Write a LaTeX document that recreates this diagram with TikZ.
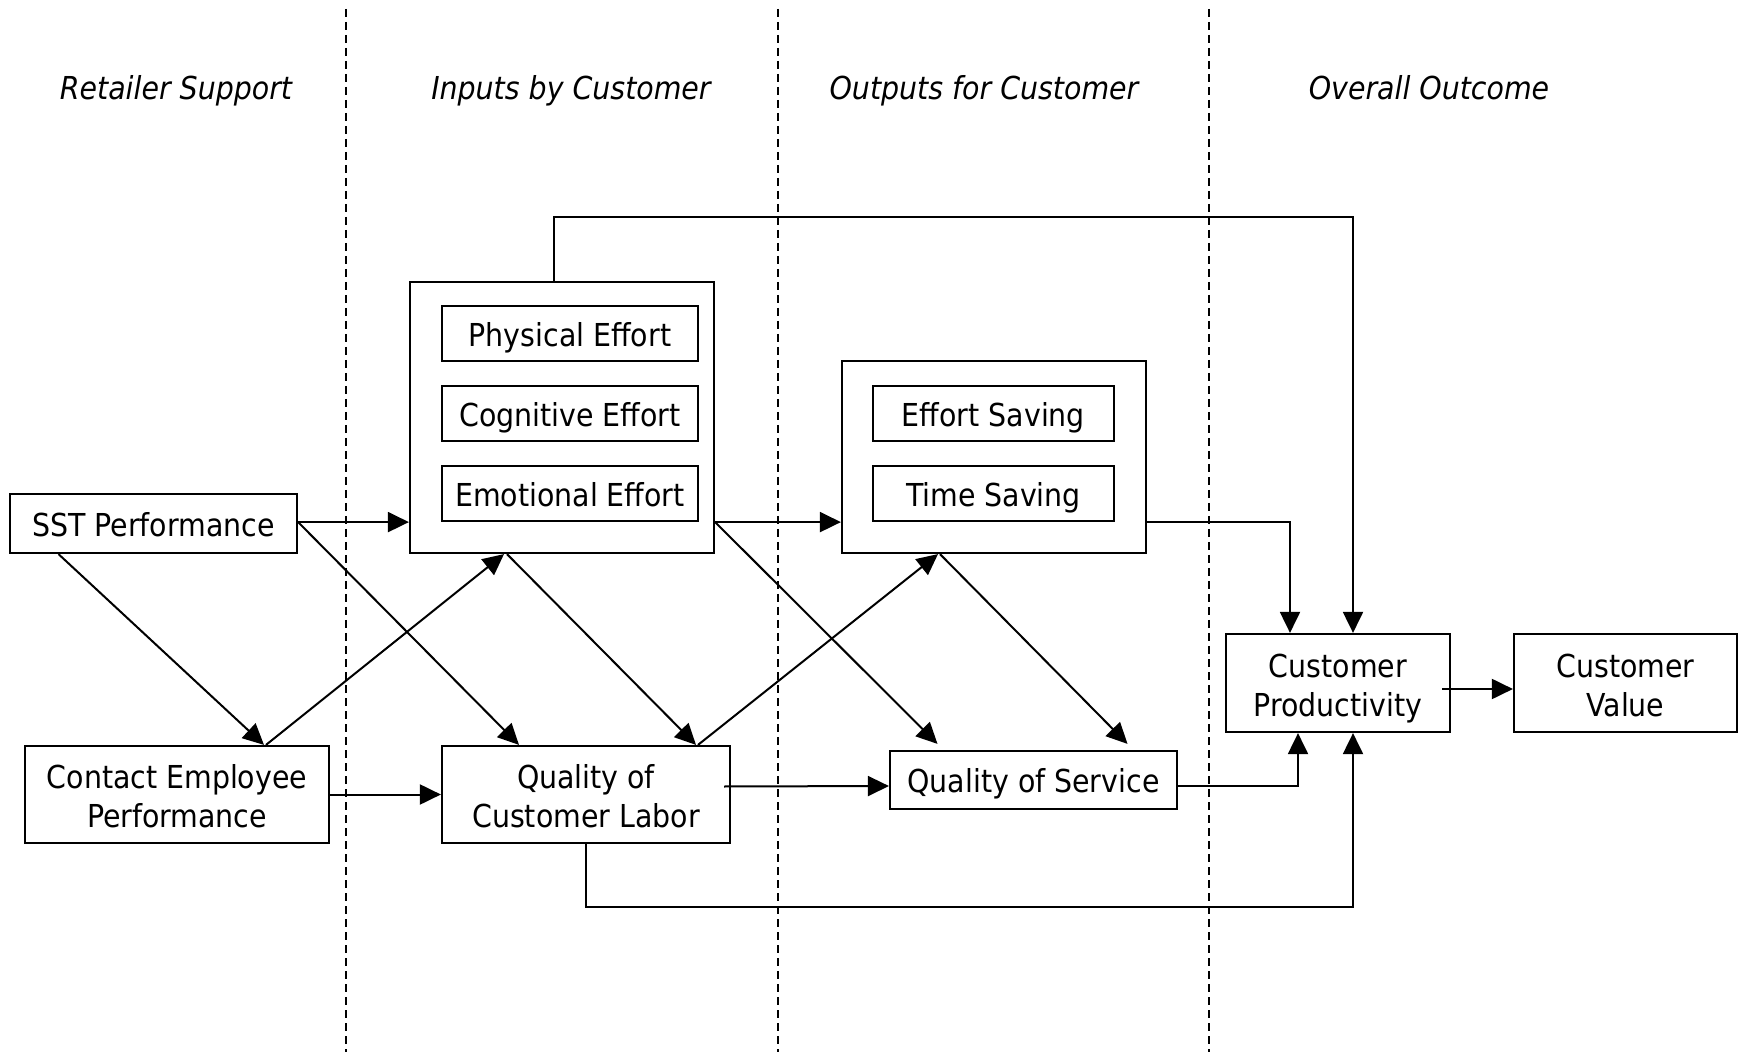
\documentclass[tikz,border=0pt]{standalone}
\usepackage{fontspec}
\setmainfont{DejaVu Sans Condensed}
\usetikzlibrary{calc, arrows.meta}

\tikzset{
  box/.style={draw, line width=1.1pt, align=center, inner sep=0pt,
    font=\fontsize{15.8}{19.5}\selectfont},
  single/.style={text height=15pt, text depth=2.1pt},
  double/.style={text height=33.2pt, text depth=0pt},
  hdr/.style={anchor=base, font=\fontsize{15.8}{19.5}\selectfont\itshape},
  arr/.style={line width=1pt, -{Triangle[length=10.5pt,width=10pt]}},
  divider/.style={line width=0.7pt, dash pattern=on 4pt off 2.5pt}
}

\begin{document}
\begin{tikzpicture}[x=0.5pt, y=-0.5pt]
\useasboundingbox (0,0) rectangle (1738,1052);
% Draw column dividers
\draw[divider] (346,9) -- (346,1052);
\draw[divider] (778,9) -- (778,1052);
\draw[divider] (1209,9) -- (1209,1052);
% Column headings
\node[hdr] (hretail) at (176,100) {Retailer Support};
\node[hdr] (hinputs) at (571,100) {Inputs by Customer};
\node[hdr] (houtputs) at (984,100) {Outputs for Customer};
\node[hdr] (houtcome) at (1429,100) {Overall Outcome};
% Retailer support boxes
\node[box, single, minimum width=143.5pt, minimum height=29.5pt] (sst) at (153.5,523.5) {SST Performance};
\node[box, double, minimum width=152pt, minimum height=48.5pt] (cep) at (177,794.5) {Contact Employee\\Performance};
% Inputs group
\node[box, minimum width=152pt, minimum height=135.5pt] (inputs) at (562,417.5) {};
\node[box, single, minimum width=128pt, minimum height=27.5pt] (phys) at (570,333.5) {Physical Effort};
\node[box, single, minimum width=128pt, minimum height=27.5pt] (cogn) at (570,413.5) {Cognitive Effort};
\node[box, single, minimum width=128pt, minimum height=27.5pt] (emot) at (570,493.5) {Emotional Effort};
\node[box, double, minimum width=144pt, minimum height=48.5pt] (qcl) at (586,794.5) {Quality of\\Customer Labor};
% Outputs group
\node[box, minimum width=152pt, minimum height=96pt] (outputs) at (994,457) {};
\node[box, single, minimum width=120.5pt, minimum height=27.5pt] (effort) at (993.5,413.5) {Effort Saving};
\node[box, single, minimum width=120.5pt, minimum height=27.5pt] (time) at (993.5,493.5) {Time Saving};
\node[box, single, minimum width=143.5pt, minimum height=29pt] (qos) at (1033.5,780) {Quality of Service};
% Outcome boxes
\node[box, double, minimum width=112pt, minimum height=49pt] (prod) at (1338,683) {Customer\\Productivity};
\node[box, double, minimum width=111.5pt, minimum height=49pt] (value) at (1625.5,683) {Customer\\Value};
% Horizontal arrows
\draw[arr] (emot.south -| sst.east) -- (emot.south -| inputs.west);
\draw[arr] (emot.south -| inputs.east) -- (emot.south -| outputs.west);
\draw[arr] (cep.east) -- (qcl.west);
\draw[arr] ($(qcl.east)+(-7,-8)$) -- ($(qos.west)+(0,6)$);
\draw[arr] ($(prod.east)+(-9,6)$) -- ($(value.west)+(0,6)$);
% Diagonal arrows
\draw[arr] ($(sst.south)+(-95,0)$) -- ($(cep.north)+(87,0)$);
\draw[arr] (emot.south -| sst.east) -- ($(qcl.north)+(-67,0)$);
\draw[arr] ($(cep.north)+(89,0)$) -- ($(inputs.south)+(-58,0)$);
\draw[arr] ($(inputs.south)+(-55,0)$) -- ($(qcl.north)+(110,0)$);
\draw[arr] ($(qcl.north)+(112,0)$) -- ($(outputs.south)+(-56,0)$);
\draw[arr] (emot.south -| inputs.east) -- ($(qos.north)+(-96,-6)$);
\draw[arr] ($(outputs.south)+(-54,0)$) -- ($(qos.north)+(94,-6)$);
% Elbow arrows into productivity
\draw[arr] (time.south -| outputs.east) -| ($(prod.north)+(-48,0)$);
\draw[arr] ($(qos.east)+(0,6)$) -| ($(prod.south)+(-40,0)$);
\draw[arr] ($(inputs.north)+(-8,0)$) -- ++(0,-64) -| ($(prod.north)+(15,0)$);
\draw[arr] (qcl.south) -- ++(0,63) -| ($(prod.south)+(15,0)$);
\end{tikzpicture}
\end{document}
